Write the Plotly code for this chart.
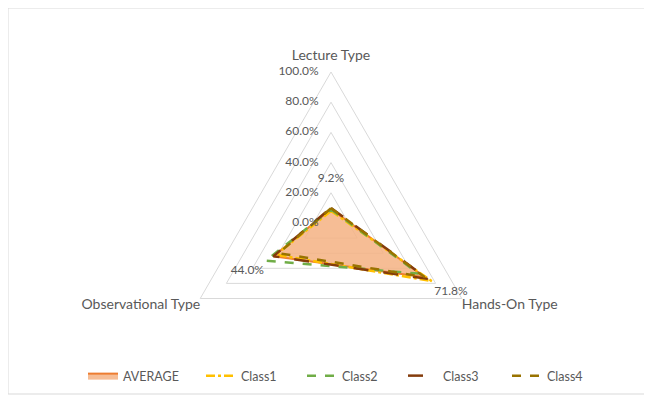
import plotly.graph_objects as go

categories = ["Lecture Type", "Hands-On Type", "Observational Type"]
average = [0.092, 0.718, 0.440]
class1 = [0.080, 0.770, 0.420]
class2 = [0.090, 0.670, 0.500]
class3 = [0.100, 0.740, 0.440]
class4 = [0.098, 0.715, 0.400]
radial_ticks = [0.0, 0.2, 0.4, 0.6, 0.8, 1.0]

LABEL_OFFSET = 0.2
EPS = 1e-4
R_MAX = 1.07          # extra room outside the 100% ring for category labels
FONT = "Lato, Open Sans, sans-serif"
GREY = "#595959"
NBSP = "\u00a0"
W, H = 644, 393       # page body adds an 8px margin
CX, CY, R100 = 323, 215, 151
RPX = R100 * R_MAX
LEGEND_X = [75, 193, 294, 395, 499]


def closed(v):
    return list(v) + [v[0]]


theta_c = closed(categories)
legend_ids = ["legend", "legend2", "legend3", "legend4", "legend5"]

fig = go.Figure()
fig.add_trace(go.Scatterpolar(
    r=closed(average), theta=theta_c, name="AVERAGE", mode="lines",
    fill="toself", fillcolor="rgba(244,177,131,0.85)",
    line=dict(color="#ED7D31", width=2), legend=legend_ids[0]))

series = [
    ("Class1", class1, "#FFC000", "dashdot"),
    ("Class2", class2, "#70AD47", "dash"),
    ("Class3", class3, "#843C0C", "longdash"),
    ("Class4", class4, "#997300", "dash"),
]
for i, (name, vals, col, dash) in enumerate(series):
    fig.add_trace(go.Scatterpolar(
        r=closed(vals), theta=theta_c, name=name, mode="lines",
        line=dict(color=col, width=2.5, dash=dash), legend=legend_ids[i + 1]))

# radial tick labels along the Lecture axis
fig.add_trace(go.Scatterpolar(
    r=[max(v, EPS) for v in radial_ticks],
    theta=[categories[0]] * len(radial_ticks), mode="text",
    text=[f"{v*100:.1f}%" + NBSP * 4 for v in radial_ticks],
    textposition="middle left",
    showlegend=False, cliponaxis=False, hoverinfo="skip",
    textfont=dict(family=FONT, size=12, color=GREY)))

# data labels for AVERAGE, placed outward along each axis
fig.add_trace(go.Scatterpolar(
    r=[v + LABEL_OFFSET for v in average], theta=categories, mode="text",
    text=[f"{v*100:.1f}%" for v in average], showlegend=False,
    cliponaxis=False, hoverinfo="skip",
    textfont=dict(family=FONT, size=12, color=GREY)))

# category labels at the outer vertices
fig.add_trace(go.Scatterpolar(
    r=[1.055, 1.0, 1.0], theta=categories, mode="text", text=categories,
    textposition=["top center", "bottom right", "bottom left"],
    showlegend=False, cliponaxis=False, hoverinfo="skip",
    textfont=dict(family=FONT, size=14, color=GREY)))

legend_style = dict(orientation="h", yanchor="middle", xanchor="left",
                    y=1 - 368 / H, bgcolor="rgba(0,0,0,0)",
                    font=dict(family=FONT, size=12.5, color=GREY))
layout_legends = {lid: dict(legend_style, x=lx / W)
                  for lid, lx in zip(legend_ids, LEGEND_X)}

fig.update_layout(
    width=W, height=H,
    margin=dict(l=0, r=0, t=0, b=0),
    paper_bgcolor="white", plot_bgcolor="white",
    font=dict(family=FONT, color=GREY, size=12),
    polar=dict(
        domain=dict(x=[(CX - RPX) / W, (CX + RPX) / W],
                    y=[1 - (CY + RPX) / H, 1 - (CY - RPX) / H]),
        gridshape="linear",
        bgcolor="white",
        radialaxis=dict(
            range=[0, R_MAX], tickvals=radial_ticks, showticklabels=False,
            angle=90, showline=False, ticks="", gridcolor="#D9D9D9", gridwidth=1),
        angularaxis=dict(
            rotation=90, direction="clockwise", showticklabels=False,
            showgrid=False, showline=False, ticks=""),
    ),
    shapes=[dict(type="rect", xref="paper", yref="paper", x0=0.0, x1=637/W,
                 y0=1-386/H, y1=1.0, line=dict(color="#D9D9D9", width=1))],
    **layout_legends,
)

fig.write_html("out.html")
